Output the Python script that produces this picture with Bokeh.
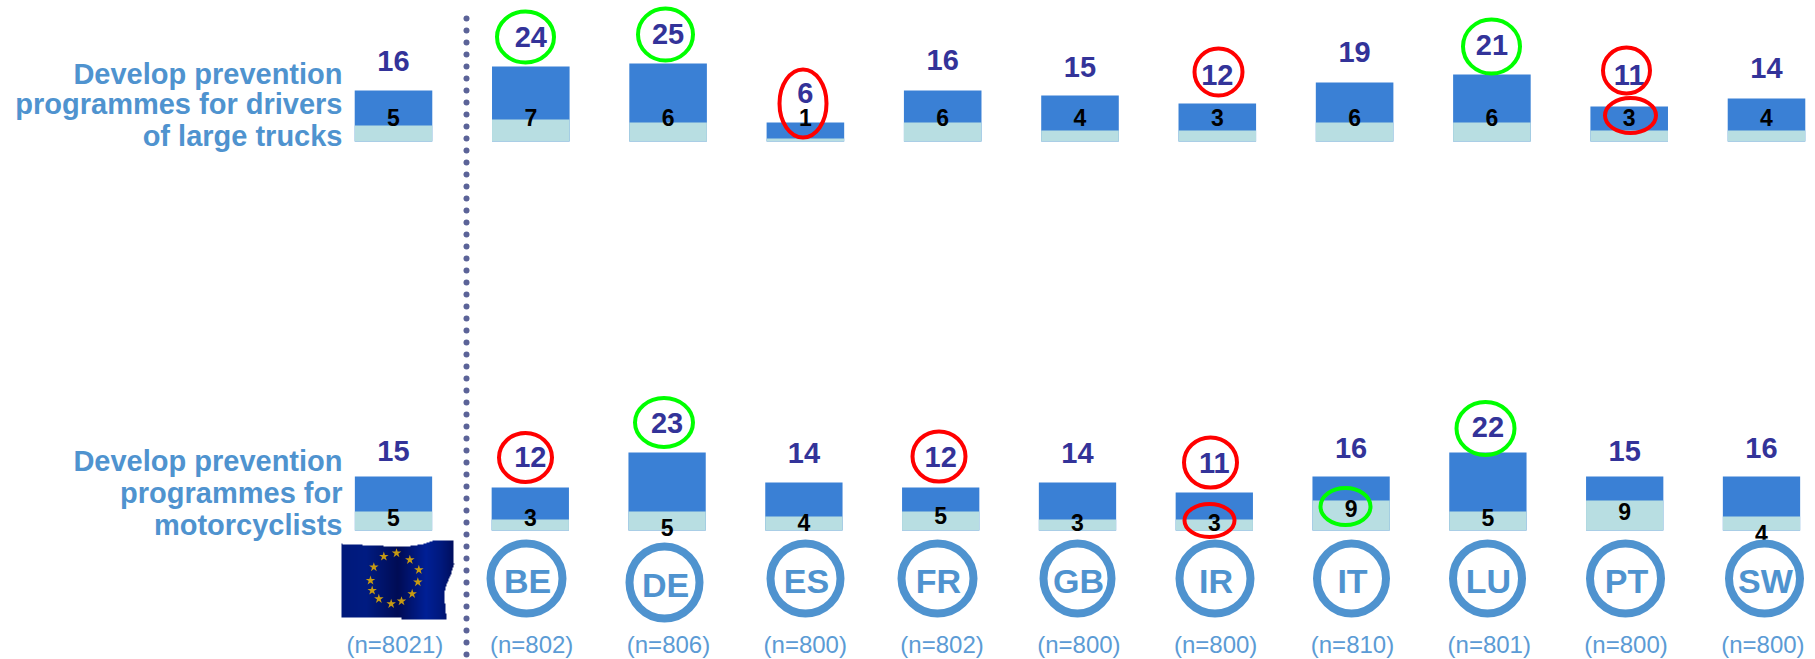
import numpy as np
from bokeh.plotting import figure
from bokeh.models import Range1d, ColumnDataSource
from bokeh.core.properties import value
from bokeh.embed import file_html
from bokeh.resources import INLINE

# ---------- data ----------
categories = ["EU", "BE", "DE", "ES", "FR", "GB", "IR", "IT", "LU", "PT", "SW"]
sample_labels = ["(n=8021)", "(n=802)", "(n=806)", "(n=800)", "(n=802)", "(n=800)",
                 "(n=800)", "(n=810)", "(n=801)", "(n=800)", "(n=800)"]
row_labels_top = ["Develop prevention", "programmes for drivers", "of large trucks"]
row_labels_bottom = ["Develop prevention", "programmes for", "motorcyclists"]

top_big = [16, 24, 25, 6, 16, 15, 12, 19, 21, 11, 14]
top_small = [5, 7, 6, 1, 6, 4, 3, 6, 6, 3, 4]
bottom_big = [15, 12, 23, 14, 12, 14, 11, 16, 22, 15, 16]
bottom_small = [5, 3, 5, 4, 5, 3, 3, 9, 5, 9, 4]

# bar heights as drawn (chart units)
top_light = [6.4, 8.8, 7.6, 1.2, 7.6, 4.4, 4.4, 7.6, 7.6, 4.4, 4.4]
top_total = [20.4, 30.0, 31.2, 7.6, 20.4, 18.4, 15.2, 23.6, 26.8, 14.0, 17.2]
bottom_light = [7.6, 4.4, 7.6, 5.6, 7.6, 4.4, 4.4, 12.0, 7.6, 12.0, 5.6]
bottom_total = [21.6, 17.2, 31.2, 19.2, 17.2, 19.2, 15.2, 21.6, 31.2, 21.6, 21.6]

# ---------- layout ----------
W, H = 1815, 659
PX_PER_UNIT = 2.5
TOP_BASE, BOTTOM_BASE = 141, 530      # page px of each row's baseline
TOP_SLOT, BOTTOM_SLOT = 137.3, 136.8  # page px between categories
EU_X = 393
BAR_W = 0.565

# position of the small labels above the baseline (chart units)
top_small_pos = [9.6] * 11
bottom_small_pos = [5.2, 5.2, 1.2, 3.2, 6.0, 3.2, 3.2, 8.8, 5.2, 7.6, -1.2]
# gap between bar top and big label (px)
top_gap = [30, 30, 30, 30, 31, 29, 29, 31, 30, 32, 31]
bottom_gap = [26, 31, 30, 30, 31, 30, 30, 29, 26, 26, 29]

# highlights: page x, page y, w, h, colour
GREEN, RED = "#00FF00", "#FF0000"
ovals = [
    (525, 36.5, 61, 55, GREEN), (665, 34, 59, 56, GREEN), (802.5, 103, 51, 72, RED),
    (1218, 71.5, 52, 51, RED), (1491, 46, 61, 58, GREEN), (1626, 70, 51, 50, RED),
    (1630, 115, 55, 39, RED), (525, 457, 57, 53, RED), (663.5, 422, 62, 53, GREEN),
    (938.5, 456, 57, 54, RED), (1210, 462, 57, 54, RED), (1209, 520, 54, 37, RED),
    (1345, 506, 54, 41, GREEN), (1485, 428, 62, 57, GREEN),
]
# country rings: centre x, centre y, outer w, outer h
rings = [
    (526, 578, 80, 78), (664, 582, 78, 80), (805, 578, 78, 78), (937, 578, 80, 78),
    (1077, 578, 76, 78), (1214.5, 578, 79, 78), (1351, 578, 77, 78), (1487, 578, 77, 78),
    (1625, 578, 79, 78), (1764, 578, 79, 78),
]

FONT = value("Liberation Sans")
BLUE = "#3A80D5"
LIGHT = "#B8DEE2"
NAVY = "#333399"
LABEL = "#4F93CF"
DOT = "#5B6398"


def Y(page_y):
    return H - np.asarray(page_y, dtype=float)


p = figure(width=W, height=H, output_backend="svg", toolbar_location=None,
           x_range=Range1d(0, W), y_range=Range1d(0, H),
           min_border=0, outline_line_color=None, background_fill_color="white",
           border_fill_color="white")
p.xaxis.visible = False
p.yaxis.visible = False
p.grid.visible = False


def rng_x(slot):
    start = -EU_X / slot
    return Range1d(start, start + W / slot)


def rng_y(base):
    # value 0 sits on the baseline; 1 unit = PX_PER_UNIT px upward
    low = -(H - base) / PX_PER_UNIT
    return Range1d(low, low + H / PX_PER_UNIT)


p.extra_x_ranges = {"top_x": rng_x(TOP_SLOT), "bottom_x": rng_x(BOTTOM_SLOT)}
p.extra_y_ranges = {"top_y": rng_y(TOP_BASE), "bottom_y": rng_y(BOTTOM_BASE)}

idx = np.arange(len(categories))


def draw_row(xr, yr, light, total, big, small, small_pos, gap):
    src = ColumnDataSource(dict(
        x=idx, light=light, total=total,
        big=[str(v) for v in big], small=[str(v) for v in small],
        small_pos=small_pos, big_off=[-g for g in gap]))
    p.vbar(x="x", width=BAR_W, bottom=0, top="total", source=src, fill_color=BLUE,
           line_color=None, x_range_name=xr, y_range_name=yr)
    p.vbar(x="x", width=BAR_W, bottom=0, top="light", source=src, fill_color=LIGHT,
           line_color=None, x_range_name=xr, y_range_name=yr)
    p.text(x="x", y="total", text="big", y_offset="big_off", source=src,
           text_font=FONT, text_font_style="bold", text_font_size="29px", text_color=NAVY,
           text_align="center", text_baseline="middle", x_range_name=xr, y_range_name=yr)
    p.text(x="x", y="small_pos", text="small", source=src,
           text_font=FONT, text_font_style="bold", text_font_size="23px", text_color="black",
           text_align="center", text_baseline="middle", x_range_name=xr, y_range_name=yr)


draw_row("top_x", "top_y", top_light, top_total, top_big, top_small, top_small_pos, top_gap)
draw_row("bottom_x", "bottom_y", bottom_light, bottom_total, bottom_big, bottom_small,
         bottom_small_pos, bottom_gap)

# row titles
for lines, ys in ((row_labels_top, (73, 103, 135)), (row_labels_bottom, (460, 492, 524))):
    p.text(x=[342] * 3, y=Y(ys), text=lines, text_font=FONT, text_font_style="bold",
           text_font_size="29px", text_color=LABEL, text_align="right", text_baseline="middle")

# dotted divider
dot_y = np.arange(18, 655, 12)
p.scatter(x=np.full(len(dot_y), 466), y=Y(dot_y), size=6, marker="circle",
          fill_color=DOT, line_color=None)

# EU flag
fw, fh = 113, 79
fx = np.arange(fw) + 341
fy = np.arange(fh) + 540
top_edge = np.interp(fx, [341, 403, 423, 432, 454], [543, 546, 543, 540, 540])
right_edge = np.interp(fy, [540, 563, 573, 585, 593, 613, 619], [452, 453, 450, 445, 443, 445, 445])
bottom_edge = np.interp(fx, [341, 400, 401, 454], [616, 616, 618, 618])
g = np.interp(fx, [341, 365, 397, 425, 440, 454], [25, 28, 12, 32, 25, 14])
b = np.interp(fx, [341, 365, 397, 425, 440, 454], [122, 130, 85, 150, 125, 90])
img = np.zeros((fh, fw), dtype=np.uint32)
view = img.view(dtype=np.uint8).reshape((fh, fw, 4))
for j in range(fh):
    for i in range(fw):
        if top_edge[i] <= fy[j] <= bottom_edge[i] and fx[i] <= right_edge[j]:
            view[j, i] = (0, int(g[i]), int(b[i]), 255)
p.image_rgba(image=[np.flipud(img)], x=341, y=Y(540 + fh), dw=fw, dh=fh)
star_x = 330 + np.array([160, 198, 238, 265, 262, 245, 213, 182, 145, 125, 120, 130]) / 3
star_y = 530 + np.array([78, 68, 88, 118, 155, 190, 212, 220, 205, 180, 150, 110]) / 3
p.scatter(x=star_x, y=Y(star_y), size=10, marker="star", fill_color="#C79A12", line_color=None)

# country rings with codes
STROKE = 8
p.ellipse(x=[c[0] for c in rings], y=Y([c[1] for c in rings]),
          width=[c[2] - STROKE for c in rings], height=[c[3] - STROKE for c in rings],
          fill_color=None, line_color=LABEL, line_width=STROKE)
p.text(x=[c[0] + 1 for c in rings], y=Y([c[1] + 2 for c in rings]), text=categories[1:],
       text_font=FONT, text_font_style="bold", text_font_size="34px", text_color=LABEL,
       text_align="center", text_baseline="middle")

# sample sizes
p.text(x=idx + 0.01, y=Y([644] * len(idx)), text=sample_labels, text_font=FONT,
       text_font_size="24px", text_color="#5B9BD5", text_align="center", text_baseline="middle",
       x_range_name="bottom_x")

# highlight ovals
p.ellipse(x=[o[0] for o in ovals], y=Y([o[1] for o in ovals]),
          width=[o[2] - 4 for o in ovals], height=[o[3] - 4 for o in ovals],
          fill_color=None, line_color=[o[4] for o in ovals], line_width=4)

open("out.html", "w").write(file_html(p, INLINE))
